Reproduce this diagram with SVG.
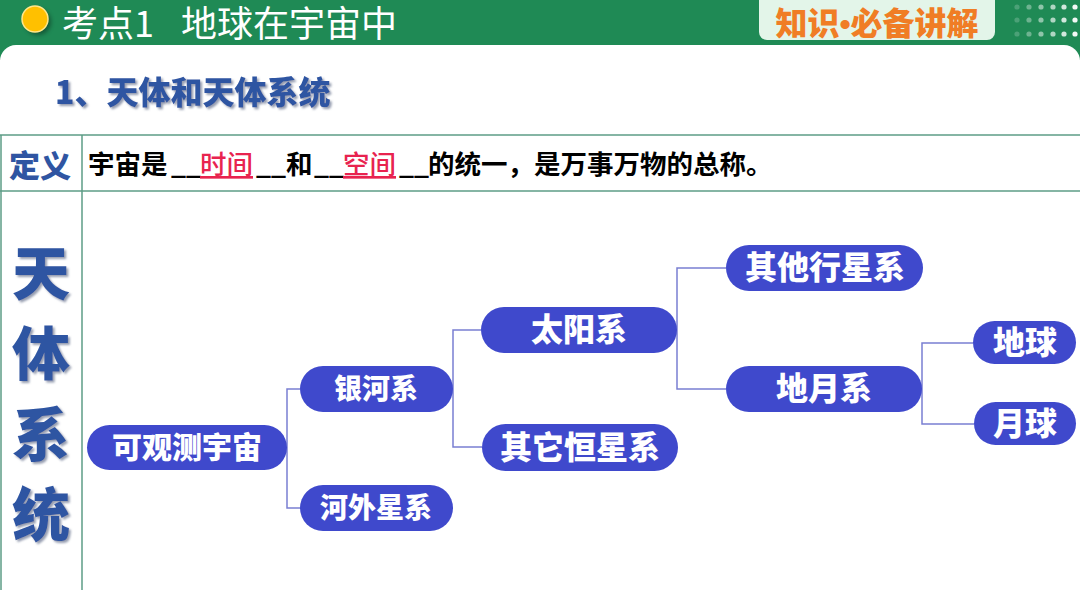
<svg xmlns="http://www.w3.org/2000/svg" width="1080" height="590" viewBox="0 0 1080 590">
<defs>
<style>
.cjk{font-family:"Noto Sans CJK SC","Liberation Sans",sans-serif;}
.node rect{fill:#3f49cc;}
.node text{fill:#ffffff;font-family:"Noto Sans CJK SC","Liberation Sans",sans-serif;font-weight:900;text-anchor:middle;}
.conn path{fill:none;stroke:#7a7fd2;stroke-width:1.5;}
.tbl line{stroke:#5d9c86;stroke-width:1.5;}
.blue{fill:#2f55a2;font-weight:900;}
</style>
<filter id="ds" x="-50%" y="-50%" width="200%" height="200%"><feGaussianBlur stdDeviation="2"/></filter>
<filter id="tsh" x="-10%" y="-10%" width="130%" height="130%"><feDropShadow dx="2" dy="2" stdDeviation="0.8" flood-color="#8a93a8" flood-opacity="0.9"/></filter>
</defs>
<!-- header -->
<rect x="0" y="0" width="1080" height="60" fill="#1f8a55"/>
<rect x="0" y="45" width="1080" height="560" rx="16" fill="#ffffff"/>
<circle cx="38" cy="22" r="13" fill="#000" opacity="0.35" filter="url(#ds)"/>
<circle cx="35" cy="19" r="13" fill="#ffc000" stroke="#ffe78a" stroke-width="1.5"/>
<text y="37" class="cjk" font-size="36" fill="#ffffff"><tspan x="62">考点1</tspan><tspan x="181">地球在宇宙中</tspan></text>
<rect x="759" y="-10" width="236" height="50" rx="8" fill="#e3f5e9"/>
<text x="877" y="35" class="cjk" font-size="32" font-weight="900" fill="#f07d25" text-anchor="middle">知识<tspan font-family="Liberation Sans" font-weight="700">•</tspan>必备讲解</text>
<g fill="#ffffff">
<circle cx="1017" cy="7" r="2.6" opacity="0.2"/><circle cx="1029" cy="7" r="2.6" opacity="0.35"/><circle cx="1041" cy="7" r="2.6" opacity="0.5"/><circle cx="1053" cy="7" r="2.6" opacity="0.65"/><circle cx="1064" cy="7" r="2.6" opacity="0.8"/><circle cx="1075" cy="7" r="2.6" opacity="0.95"/>
<circle cx="1017" cy="20" r="2.6" opacity="0.2"/><circle cx="1029" cy="20" r="2.6" opacity="0.35"/><circle cx="1041" cy="20" r="2.6" opacity="0.5"/><circle cx="1053" cy="20" r="2.6" opacity="0.65"/><circle cx="1064" cy="20" r="2.6" opacity="0.8"/><circle cx="1075" cy="20" r="2.6" opacity="0.95"/>
<circle cx="1017" cy="34" r="2.6" opacity="0.2"/><circle cx="1029" cy="34" r="2.6" opacity="0.35"/><circle cx="1041" cy="34" r="2.6" opacity="0.5"/><circle cx="1053" cy="34" r="2.6" opacity="0.65"/><circle cx="1064" cy="34" r="2.6" opacity="0.8"/><circle cx="1075" cy="34" r="2.6" opacity="0.95"/>
</g>
<!-- heading -->
<text x="55" y="104" class="cjk blue" font-size="32" filter="url(#tsh)">1、天体和天体系统</text>
<!-- table -->
<g class="tbl">
<line x1="0" y1="135" x2="1080" y2="135"/>
<line x1="0" y1="191" x2="1080" y2="191"/>
<line x1="1" y1="135" x2="1" y2="590"/>
<line x1="82" y1="135" x2="82" y2="590"/>
</g>
<text x="9" y="177" class="cjk blue" font-size="31">定义</text>
<text y="174" class="cjk" font-size="26.5" font-weight="700" fill="#000000"><tspan x="88">宇宙是</tspan><tspan x="171">__</tspan><tspan x="200" fill="#e8234f" font-weight="500" text-decoration="underline">时间</tspan><tspan x="256">__</tspan><tspan x="286">和</tspan><tspan x="314">__</tspan><tspan x="343" fill="#e8234f" font-weight="500" text-decoration="underline">空间</tspan><tspan x="399">__</tspan><tspan x="428">的统一，是万事万物的总称。</tspan></text>
<g class="cjk blue" font-size="58" text-anchor="middle" filter="url(#tsh)">
<text x="41" y="295">天</text>
<text x="41" y="375">体</text>
<text x="41" y="456">系</text>
<text x="41" y="536">统</text>
</g>
<!-- connectors -->
<g class="conn">
<path d="M287 447 V389 H300 M287 447 V508 H300"/>
<path d="M453 389 V330 H481 M453 389 V447 H482"/>
<path d="M677 330 V268 H726 M677 330 V389 H726"/>
<path d="M922 389 V343 H973 M922 389 V424 H974"/>
</g>
<!-- nodes -->
<g id="n-universe" class="node"><rect x="87" y="425" width="200" height="45" rx="22.5"/><text x="187" y="458" font-size="30">可观测宇宙</text></g>
<g id="n-milkyway" class="node"><rect x="300" y="366" width="153" height="46" rx="23"/><text x="376" y="399" font-size="28">银河系</text></g>
<g id="n-extragalactic" class="node"><rect x="300" y="485" width="153" height="46" rx="23"/><text x="376" y="518" font-size="28">河外星系</text></g>
<g id="n-solar" class="node"><rect x="481" y="307" width="196" height="46" rx="23"/><text x="579" y="341" font-size="32">太阳系</text></g>
<g id="n-otherstars" class="node"><rect x="482" y="424" width="196" height="47" rx="23.5"/><text x="580" y="459" font-size="32">其它恒星系</text></g>
<g id="n-otherplanets" class="node"><rect x="726" y="245" width="197" height="46" rx="23"/><text x="825" y="279" font-size="32">其他行星系</text></g>
<g id="n-earthmoon" class="node"><rect x="726" y="366" width="196" height="46" rx="23"/><text x="824" y="400" font-size="32">地月系</text></g>
<g id="n-earth" class="node"><rect x="973" y="321" width="103" height="43" rx="21.5"/><text x="1025" y="354" font-size="32">地球</text></g>
<g id="n-moon" class="node"><rect x="974" y="402" width="102" height="43" rx="21.5"/><text x="1025" y="435" font-size="32">月球</text></g>
</svg>
